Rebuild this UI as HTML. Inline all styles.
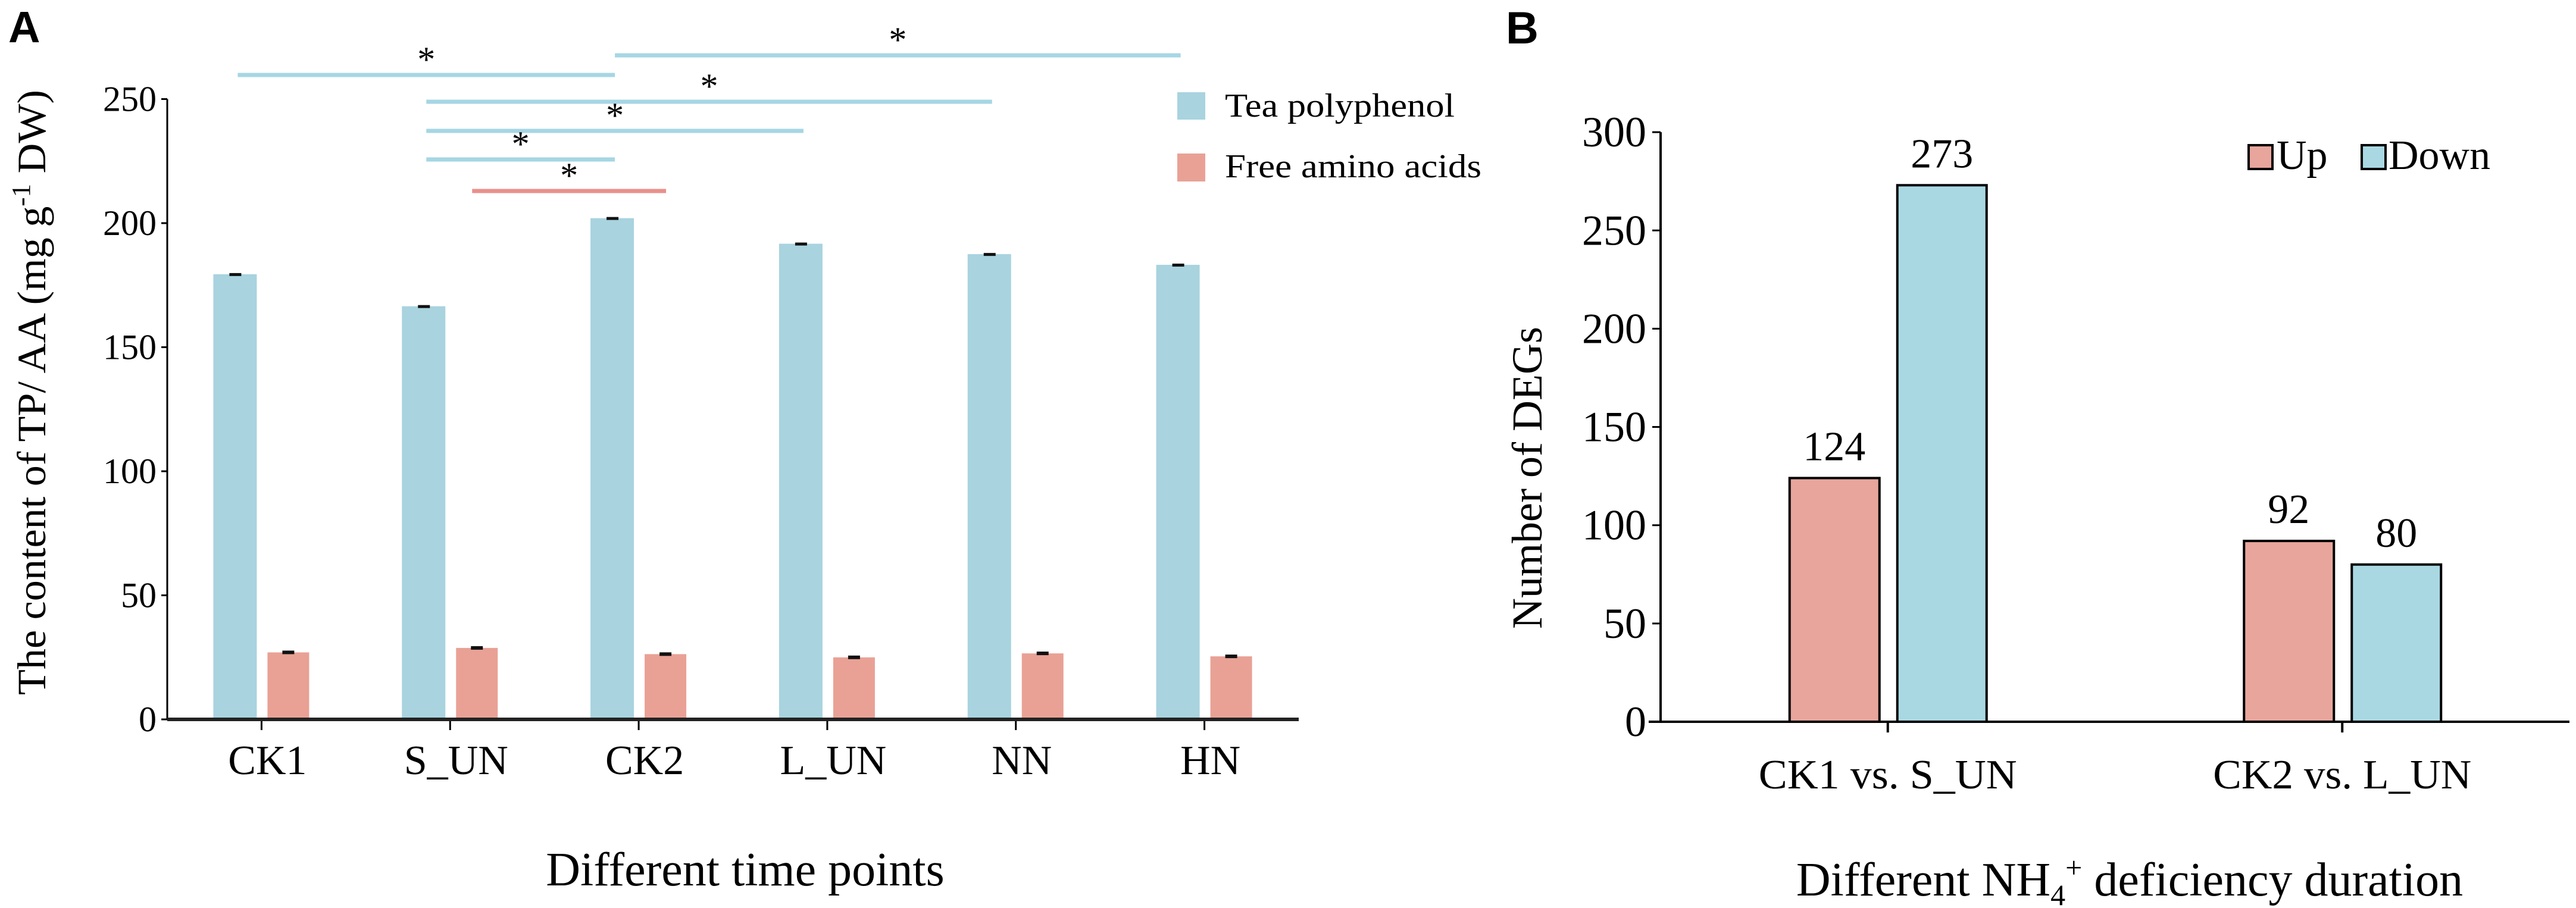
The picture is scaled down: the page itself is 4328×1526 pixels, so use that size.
<!DOCTYPE html>
<html><head><meta charset="utf-8"><style>
html,body{margin:0;padding:0;background:#fff;}
svg{display:block;font-family:"Liberation Serif",serif;}
</style></head><body>
<svg id="chart" width="4328" height="1526" viewBox="0 0 4328 1526" xmlns="http://www.w3.org/2000/svg">
<g id="A"></g>
<g id="B"></g>
</svg>
<script>
// Panel A data
const catsA = ["CK1","S_UN","CK2","L_UN","NN","HN"];
const tpVals = [179.4,166.5,202.0,191.7,187.5,183.2];
const aaVals = [27.0,28.8,26.3,25.0,26.6,25.4];
const ticksA = [0,50,100,150,200,250];
// significance brackets: [fromCategory, toCategory, seriesIndex(0=TP,1=AA), level]
const sigFrom = [0,2,1,1,1,1];
const sigTo = [2,5,4,3,2,2];
const sigSeries = [0,0,0,0,0,1];
// Panel B data
const catsB = ["CK1 vs. S_UN","CK2 vs. L_UN"];
const upVals = [124,92];
const downVals = [273,80];
const ticksB = [0,50,100,150,200,250,300];

const NS="http://www.w3.org/2000/svg";
function mk(parent,tag,attrs,txt){const e=document.createElementNS(NS,tag);for(const k in attrs)e.setAttribute(k,attrs[k]);if(txt!==undefined)e.textContent=txt;parent.appendChild(e);return e;}

// ---- Panel A ----
const A=document.getElementById('A');
const ax0=281, ax1=2182, ay0=1209, pxPerA=4.17;
const yA=v=>ay0-v*pxPerA;
const bandA=(ax1-ax0)/catsA.length;
const xA=i=>ax0+bandA*(i+0.5);
const blue="#a8d3df", red="#e9a195";
let t;
t=mk(A,'text',{x:14,y:71,'font-family':'Liberation Sans, sans-serif','font-weight':'bold','font-size':74},'A');


t=mk(A,'text',{x:0,y:0,transform:'translate(76,1168) rotate(-90)','font-size':68,textLength:1017,lengthAdjust:'spacingAndGlyphs'});


t.innerHTML='The content of TP/ AA (mg g<tspan dy="-26" font-size="44">-1</tspan><tspan dy="26"> DW)</tspan>';
ticksA.forEach(v=>{
  const tk=mk(A,'line',{x1:ax0-10,x2:ax0,y1:yA(v),y2:yA(v),stroke:'#000','stroke-width':3});
  
  
  const lb=mk(A,'text',{x:ax0-18,y:yA(v)+20,'text-anchor':'end','font-size':60},String(v));
  
  
});
let l=mk(A,'line',{x1:ax0,x2:ax0,y1:yA(250),y2:ay0,stroke:'#000','stroke-width':3});


catsA.forEach((c,i)=>{
  const cx=xA(i);
  const b1=mk(A,'rect',{x:cx-81,y:yA(tpVals[i]),width:73,height:ay0-yA(tpVals[i]),fill:blue});
  
  
  const e1=mk(A,'rect',{x:cx-54,y:yA(tpVals[i])-2,width:20,height:5,fill:'#111'});
  
  
  const b2=mk(A,'rect',{x:cx+10,y:yA(aaVals[i]),width:70,height:ay0-yA(aaVals[i]),fill:red});
  
  
  const e2=mk(A,'rect',{x:cx+35,y:yA(aaVals[i])-3,width:20,height:6,fill:'#111'});
  
  
  const tk=mk(A,'line',{x1:cx,x2:cx,y1:ay0,y2:ay0+18,stroke:'#000','stroke-width':3});
  
  
  const lb=mk(A,'text',{x:cx+10,y:1301,'text-anchor':'middle','font-size':70},c);
  
  
});
l=mk(A,'line',{x1:ax0,x2:ax1,y1:ay0,y2:ay0,stroke:'#222','stroke-width':6});


t=mk(A,'text',{x:1252,y:1488,'text-anchor':'middle','font-size':80},'Different time points');


// significance lines
const sigY=[126,93,171,220,268,321];
sigFrom.forEach((f,k)=>{
  const x1=xA(sigFrom[k])-40, x2=xA(sigTo[k])-40+(sigSeries[k]?50:0);
  const xs=sigSeries[k]?xA(sigFrom[k])+355-318:x1;
  const lx1=sigSeries[k]?xA(1)+37:x1, lx2=sigSeries[k]?xA(2)+46:x2;
  const ln=mk(A,'line',{x1:lx1,x2:lx2,y1:sigY[k],y2:sigY[k],stroke:sigSeries[k]?'#e8908a':'#a6d6e4','stroke-width':7});
  
  
  const st=mk(A,'text',{x:(lx1+lx2)/2,y:sigY[k]-6,'text-anchor':'middle','font-size':60},'*');
  
  
});
// legend A
let r=mk(A,'rect',{x:1978,y:155,width:47,height:46,fill:blue});


t=mk(A,'text',{x:2058,y:196,'font-size':56,textLength:386,lengthAdjust:'spacingAndGlyphs'},'Tea polyphenol');


r=mk(A,'rect',{x:1978,y:258,width:47,height:47,fill:red});


t=mk(A,'text',{x:2058,y:298,'font-size':56,textLength:431,lengthAdjust:'spacingAndGlyphs'},'Free amino acids');



// ---- Panel B ----
const B=document.getElementById('B');
const bx0=2790, bx1=4317, by0=1213, pxPerB=3.303;
const yB=v=>by0-v*pxPerB;
const bandB=(bx1-bx0)/catsB.length;
const xB=i=>bx0+bandB*(i+0.5);
const upC="#e8a59b", downC="#a9d8e3";
t=mk(B,'text',{x:2530,y:73,'font-family':'Liberation Sans, sans-serif','font-weight':'bold','font-size':76},'B');


t=mk(B,'text',{x:0,y:0,transform:'translate(2590,803) rotate(-90)','text-anchor':'middle','font-size':72},'Number of DEGs');


ticksB.forEach(v=>{
  const tk=mk(B,'line',{x1:bx0-14,x2:bx0,y1:yB(v),y2:yB(v),stroke:'#000','stroke-width':3});
  
  
  const lb=mk(B,'text',{x:bx0-24,y:yB(v)+24,'text-anchor':'end','font-size':72},String(v));
  
  
});
l=mk(B,'line',{x1:bx0,x2:bx0,y1:yB(300),y2:by0,stroke:'#000','stroke-width':4});


catsB.forEach((c,i)=>{
  const cx=xB(i);
  const b1=mk(B,'rect',{x:cx-165,y:yB(upVals[i]),width:151,height:by0-yB(upVals[i]),fill:upC,stroke:'#000','stroke-width':4});
  
  
  const v1=mk(B,'text',{x:cx-90,y:yB(upVals[i])-30,'text-anchor':'middle','font-size':70},String(upVals[i]));
  
  
  const b2=mk(B,'rect',{x:cx+16,y:yB(downVals[i]),width:150,height:by0-yB(downVals[i]),fill:downC,stroke:'#000','stroke-width':4});
  
  
  const v2=mk(B,'text',{x:cx+91,y:yB(downVals[i])-30,'text-anchor':'middle','font-size':70},String(downVals[i]));
  
  
  const tk=mk(B,'line',{x1:cx,x2:cx,y1:by0,y2:by0+18,stroke:'#000','stroke-width':4});
  
  
  const lb=mk(B,'text',{x:cx,y:1325,'text-anchor':'middle','font-size':70,textLength:434,lengthAdjust:'spacingAndGlyphs'},c);
  
  
});
l=mk(B,'line',{x1:2770,x2:bx1,y1:by0,y2:by0,stroke:'#000','stroke-width':4});


t=mk(B,'text',{x:3578,y:1505,'text-anchor':'middle','font-size':80});


t.innerHTML='Different NH<tspan dy="16" font-size="50">4</tspan><tspan dy="-46" font-size="50">+</tspan><tspan dy="30"> deficiency duration</tspan>';
r=mk(B,'rect',{x:3778,y:244,width:40,height:40,fill:upC,stroke:'#000','stroke-width':4});


t=mk(B,'text',{x:3825,y:284,'font-size':70},'Up');


r=mk(B,'rect',{x:3968,y:244,width:40,height:40,fill:downC,stroke:'#000','stroke-width':4});


t=mk(B,'text',{x:4013,y:284,'font-size':70},'Down');


</script>
</body></html>
